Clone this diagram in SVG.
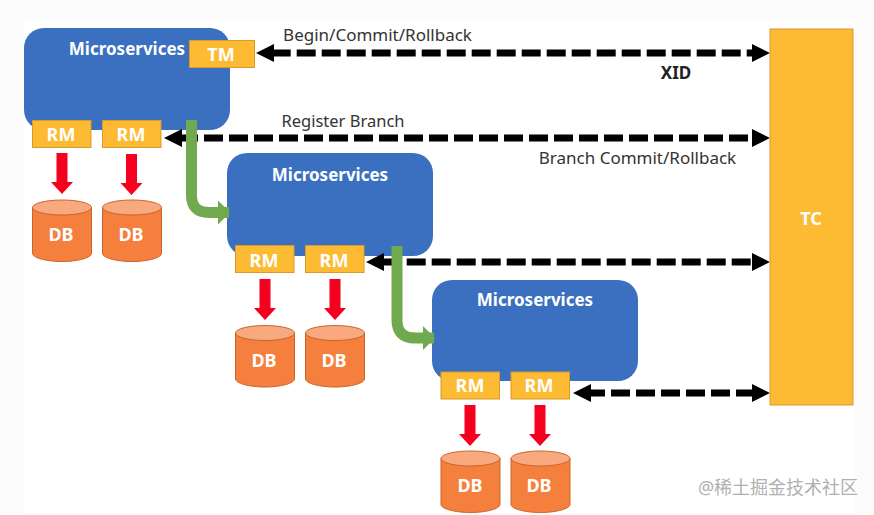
<svg xmlns="http://www.w3.org/2000/svg" width="874" height="515" viewBox="0 0 874 515">
<style>
text{font-family:"Noto Sans","Liberation Sans","Noto Sans CJK SC",sans-serif;text-anchor:middle}
.ms{fill:#3a70bf}
.mt{fill:#fff;font-size:17px;font-weight:700}
.box{fill:#fdbb34;stroke:#d99a2b;stroke-width:1}
.bt{fill:#fff;font-size:18px;font-weight:700}
.cyl{fill:#f5803e;stroke:#c9642a;stroke-width:1}
.top{fill:#f8a97f;stroke:#c9642a;stroke-width:1}
.lb{fill:#333;font-size:17px}
.dash{fill:none;stroke:#000;stroke-width:7;stroke-dasharray:19 6;marker-start:url(#bk);marker-end:url(#bk)}
.green{fill:none;stroke:#71a94f;stroke-width:11;marker-end:url(#gr)}
</style>
<defs>
<marker id="bk" markerUnits="userSpaceOnUse" viewBox="0 0 18 18" refX="8" refY="9" markerWidth="18" markerHeight="18" orient="auto-start-reverse"><path d="M0 0L18 9L0 18Z" fill="#000"/></marker>
<marker id="gr" markerUnits="userSpaceOnUse" viewBox="0 0 12 24" refX="11" refY="12" markerWidth="12" markerHeight="24" orient="auto"><path d="M0 0L12 12L0 24Z" fill="#71a94f"/></marker>
<g id="db"><path class="cyl" d="M0 8V54C0 58 13 62 29.500 62S59 58 59 54V8Z"/><ellipse class="top" cx="29.500" cy="8" rx="29.500" ry="7.500"/></g>
<path id="redarrow" fill="#f6001f" d="M-5.500 0H5.500V29H11L0 41L-11 29H-5.500Z"/>
</defs>
<rect width="874" height="515" fill="#fbfbfb"/>
<rect x="24" y="20" width="831" height="493" fill="#fff"/>

<g id="node-ms1"><rect class="ms" x="24" y="28" width="206" height="102" rx="20"/><text class="mt" x="127" y="54.500">Microservices</text></g>
<g id="node-ms2"><rect class="ms" x="227" y="153" width="206" height="103" rx="20"/><text class="mt" x="330" y="180.500">Microservices</text></g>
<g id="node-ms3"><rect class="ms" x="432" y="280" width="206" height="101" rx="20"/><text class="mt" x="535" y="305.500">Microservices</text></g>

<g id="connectors">
<path class="dash" style="stroke-dashoffset:19.3" d="M266 53H760"/>
<path class="dash" style="stroke-dashoffset:20" d="M174 138H760"/>
<path class="dash" style="stroke-dashoffset:19.3" d="M376 262H760"/>
<path class="dash" style="stroke-dashoffset:22" d="M583 393H760"/>
<path class="green" d="M191.500 120V195Q191.500 212.500 209 212.500H229"/>
<path class="green" d="M397 246V320Q397 338 415 338H434"/>
<use href="#redarrow" x="62" y="153"/>
<use href="#redarrow" x="131.500" y="154"/>
<use href="#redarrow" x="265" y="279"/>
<use href="#redarrow" x="335" y="279"/>
<use href="#redarrow" x="470" y="405"/>
<use href="#redarrow" x="540" y="405"/>
</g>

<g id="node-tm"><rect class="box" x="189.500" y="40.500" width="65" height="27"/><text class="bt" x="221" y="60.500">TM</text></g>
<g id="node-rm1"><rect class="box" x="32.500" y="120.500" width="58.500" height="27"/><text class="bt" x="61" y="140.500">RM</text></g>
<g id="node-rm2"><rect class="box" x="102.500" y="120.500" width="58.500" height="27"/><text class="bt" x="131" y="140.500">RM</text></g>
<g id="node-rm3"><rect class="box" x="235.500" y="245.500" width="58.500" height="27"/><text class="bt" x="264" y="266.500">RM</text></g>
<g id="node-rm4"><rect class="box" x="305.500" y="245.500" width="58.500" height="27"/><text class="bt" x="334" y="266.500">RM</text></g>
<g id="node-rm5"><rect class="box" x="441" y="372" width="58.500" height="27"/><text class="bt" x="470" y="391.500">RM</text></g>
<g id="node-rm6"><rect class="box" x="511" y="372" width="58.500" height="27"/><text class="bt" x="539" y="391.500">RM</text></g>

<g id="node-db1"><use href="#db" x="32.500" y="199.500"/><text class="bt" x="61" y="240.500">DB</text></g>
<g id="node-db2"><use href="#db" x="102.500" y="199.500"/><text class="bt" x="131" y="240.500">DB</text></g>
<g id="node-db3"><use href="#db" x="235.500" y="325"/><text class="bt" x="264" y="366.500">DB</text></g>
<g id="node-db4"><use href="#db" x="305.500" y="325"/><text class="bt" x="334" y="366.500">DB</text></g>
<g id="node-db5"><use href="#db" x="441" y="450.500"/><text class="bt" x="470" y="491.500">DB</text></g>
<g id="node-db6"><use href="#db" x="511" y="450.500"/><text class="bt" x="539" y="491.500">DB</text></g>

<g id="node-tc"><rect class="box" x="770" y="29" width="83" height="376"/><text class="bt" x="811" y="224.500">TC</text></g>

<g id="labels">
<text class="lb" x="377.500" y="41">Begin/Commit/Rollback</text>
<text class="lb" style="font-size:16.500px" x="343" y="127">Register Branch</text>
<text class="lb" x="637.500" y="164">Branch Commit/Rollback</text>
<text x="676" y="79" style="font-size:17px;font-weight:700;fill:#222">XID</text>
<text x="778" y="494" style="font-size:18px;fill:#b0b0b0">@稀土掘金技术社区</text>
</g>
</svg>
